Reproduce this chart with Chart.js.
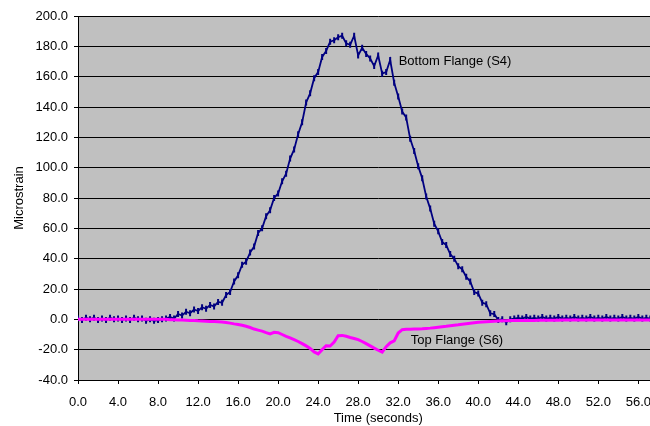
<!DOCTYPE html>
<html>
<head>
<meta charset="utf-8">
<script src="https://cdn.jsdelivr.net/npm/chart.js@4"></script>
<style>
html,body{margin:0;padding:0;background:#fff;overflow:hidden;width:650px;height:426px;}
#wrap{width:702px;height:426px;}
</style>
</head>
<body>
<div id="wrap"><canvas id="c" width="702" height="426"></canvas></div>
<script>
// Sample times (seconds)
const timeSeconds = [
0,0.4,0.8,1.2,1.6,2,2.4,2.8,3.2,3.6,4,4.4,4.8,5.2,5.6,6,6.4,6.8,7.2,7.6,
8,8.4,8.8,9.2,9.6,10,10.4,10.8,11.2,11.6,12,12.4,12.8,13.2,13.6,14,14.4,14.8,15.2,15.6,
16,16.4,16.8,17.2,17.6,18,18.4,18.8,19.2,19.6,20,20.4,20.8,21.2,21.6,22,22.4,22.8,23.2,23.6,
24,24.4,24.8,25.2,25.6,26,26.4,26.8,27.2,27.6,28,28.4,28.8,29.2,29.6,30,30.4,30.8,31.2,31.6,
32,32.4,32.8,33.2,33.6,34,34.4,34.8,35.2,35.6,36,36.4,36.8,37.2,37.6,38,38.4,38.8,39.2,39.6,
40,40.4,40.8,41.2,41.6,42,42.4,42.8,43.2,43.6,44,44.4,44.8,45.2,45.6,46,46.4,46.8,47.2,47.6,
48,48.4,48.8,49.2,49.6,50,50.4,50.8,51.2,51.6,52,52.4,52.8,53.2,53.6,54,54.4,54.8,55.2,55.6,
56,56.4,56.8,57.2,57.6,58,58.4,58.8,59.2,59.6,60
];
// Bottom Flange (S4) microstrain
const bottomFlangeS4 = [
0.5,-0.5,1,0,1,-0.5,0.5,-0.5,1,0,0.5,-0.5,0.5,-0.5,1,0,0.5,-1,0,-1,
-0.5,0,0.5,1.5,0.5,3.5,2.5,5,4,6.5,5.5,8,7,9.5,8.5,11.5,11,16,18,25,
29,36,38,44,48,57,60,68,72,80,83,91,96,106,112,122,130,143,149,159,
163,173,177,183,184,186,187,182,181,187,174,179,175,172,167,174,162,163,171,156,
147,137,133,119,111,101,93,81,73,63,58,51,49,43,40,35,33,28,25,18,
17,11,10,4,3.5,-0.5,0,-2,0,0.5,1,0.5,1.5,0.5,1,0.5,1.5,0.5,1,0.5,
1.5,0.5,1,0.5,1.5,0.5,1,0.5,1.5,0.5,1,0.5,1.5,0.5,1,0.5,1.5,0.5,1,0.5,
1.5,0.5,1,0.5,1.5,0.5,1,0.5,1.5,0.5,1
];
// Top Flange (S6) microstrain
const topFlangeS6 = [
0,0,0,0,0,0,0,0,0,0,0,0,0,0,0,0,0,0,0,0,
0,0,0,-0.2,-0.3,-0.4,-0.5,-0.6,-0.7,-0.8,-1.0,-1.1,-1.2,-1.4,-1.5,-1.6,-1.8,-2.1,-2.5,-3.0,
-3.4,-3.9,-4.6,-5.4,-6.4,-7.1,-7.8,-8.8,-9.6,-8.6,-8.8,-10.0,-11.2,-12.3,-13.4,-14.6,-16.0,-17.5,-19.2,-21.5,
-22.8,-20.0,-17.4,-17.6,-15.0,-10.8,-10.6,-11.2,-12.0,-12.6,-13.4,-14.6,-16.0,-17.5,-19.0,-20.4,-21.6,-18.0,-15.5,-14.2,
-9.0,-6.8,-6.6,-6.5,-6.4,-6.3,-6.2,-6.0,-5.8,-5.5,-5.2,-4.9,-4.6,-4.2,-3.9,-3.6,-3.2,-2.9,-2.6,-2.3,
-2.0,-1.8,-1.6,-1.4,-1.2,-1.1,-1.0,-0.9,-0.8,-0.8,-0.8,-0.7,-0.7,-0.7,-0.7,-0.6,-0.6,-0.6,-0.6,-0.6,
-0.6,-0.5,-0.5,-0.5,-0.5,-0.5,-0.5,-0.5,-0.5,-0.5,-0.5,-0.5,-0.5,-0.5,-0.5,-0.5,-0.5,-0.5,-0.5,-0.5,
-0.5,-0.5,-0.5,-0.5,-0.5,-0.5,-0.5,-0.5,-0.5,-0.5,-0.5
];
const seriesNames = ['Bottom Flange (S4)', 'Top Flange (S6)'];
const xTitle = 'Time (seconds)';
const yTitle = 'Microstrain';
const xMin = 0, xMax = 60, xStep = 4;
const yMin = -40, yMax = 200, yStep = 20;
// label anchors in data units
const labelS4 = {x: 32.05, y: 170.3};
const labelS6 = {x: 33.25, y: -13.6};

const FONT = "'Liberation Sans', Arial, sans-serif";

const bgPlugin = {
  id: 'bg',
  beforeDraw(chart) {
    const {ctx, chartArea: a} = chart;
    ctx.save();
    ctx.fillStyle = '#ffffff';
    ctx.fillRect(0, 0, chart.width, chart.height);
    ctx.fillStyle = '#c0c0c0';
    ctx.fillRect(a.left, a.top, a.right - a.left, a.bottom - a.top);
    ctx.restore();
  }
};
const labelPlugin = {
  id: 'seriesLabels',
  afterDatasetsDraw(chart) {
    const {ctx, scales: {x, y}} = chart;
    ctx.save();
    ctx.font = '13px ' + FONT;
    ctx.fillStyle = '#000';
    ctx.textBaseline = 'middle';
    ctx.textAlign = 'left';
    ctx.fillText(seriesNames[0], x.getPixelForValue(labelS4.x), y.getPixelForValue(labelS4.y));
    ctx.fillText(seriesNames[1], x.getPixelForValue(labelS6.x), y.getPixelForValue(labelS6.y));
    ctx.restore();
  }
};

new Chart(document.getElementById('c'), {
  type: 'line',
  data: {
    datasets: [
      {
        label: seriesNames[1],
        data: timeSeconds.map((t, i) => ({x: t, y: topFlangeS6[i]})),
        borderColor: '#ff00ff',
        borderWidth: 3,
        pointRadius: 0,
        tension: 0,
        order: 1
      },
      {
        label: seriesNames[0],
        data: timeSeconds.map((t, i) => ({x: t, y: bottomFlangeS4[i]})),
        borderColor: '#000080',
        borderWidth: 1.8,
        pointStyle: 'line',
        rotation: 90,
        pointRadius: 3,
        pointBorderWidth: 2,
        pointBorderColor: '#000080',
        pointBackgroundColor: '#000080',
        tension: 0,
        order: 2
      }
    ]
  },
  options: {
    responsive: false,
    animation: false,
    events: [],
    layout: {padding: {top: 16, left: 8, right: 0, bottom: 0}},
    plugins: {legend: {display: false}, tooltip: {enabled: false}},
    scales: {
      x: {
        type: 'linear',
        min: xMin, max: xMax,
        afterFit: s => { s.height = 46; },
        border: {color: '#000', width: 1},
        grid: {drawOnChartArea: false, drawTicks: true, tickLength: 4, tickColor: '#000'},
        ticks: {stepSize: xStep, color: '#000', font: {family: FONT, size: 13}, padding: 11,
                maxRotation: 0, autoSkip: false, includeBounds: false,
                callback: v => Number(v).toFixed(1)},
        title: {display: true, text: xTitle, color: '#000', font: {family: FONT, size: 13}, padding: {top: 2, bottom: 0}}
      },
      y: {
        type: 'linear',
        min: yMin, max: yMax,
        afterFit: s => { s.width = 70; },
        border: {color: '#000', width: 1},
        grid: {color: '#000', lineWidth: 1, drawTicks: true, tickLength: 4, tickColor: '#000'},
        ticks: {stepSize: yStep, color: '#000', font: {family: FONT, size: 13}, padding: 6,
                callback: v => Number(v).toFixed(1)},
        title: {display: true, text: yTitle, color: '#000', font: {family: FONT, size: 13}, padding: {top: 4, bottom: 4}}
      }
    }
  },
  plugins: [bgPlugin, labelPlugin]
});
</script>
</body>
</html>
